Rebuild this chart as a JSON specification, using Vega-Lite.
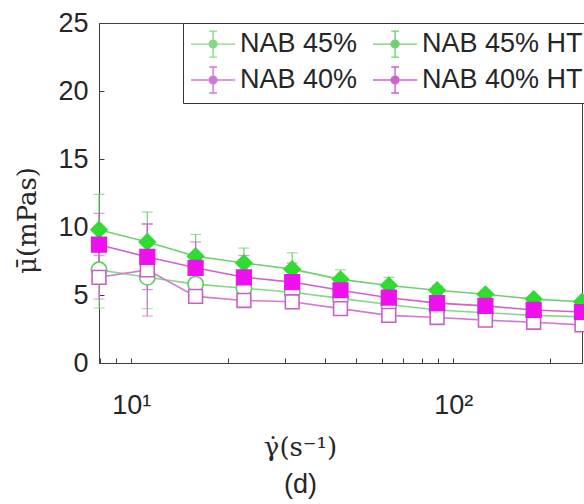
{
  "$schema": "https://vega.github.io/schema/vega-lite/v6.json",
  "width": 483,
  "height": 340,
  "autosize": {"type": "none"},
  "padding": {"left": 99, "top": 23, "right": 2, "bottom": 141},
  "background": "white",
  "config": {
    "view": {"stroke": "#404040", "strokeWidth": 1},
    "axis": {
      "grid": false,
      "domainColor": "#404040",
      "tickColor": "#404040",
      "labelColor": "#262626",
      "labelFont": "Liberation Sans",
      "labelFontSize": 27,
      "titleColor": "#262626",
      "titleFontWeight": "normal"
    }
  },
  "title": {
    "text": "(d)",
    "orient": "bottom",
    "font": "Liberation Sans",
    "fontSize": 27,
    "fontWeight": "normal",
    "color": "#262626",
    "dx": -40,
    "offset": 12
  },
  "data": {
    "values": [
      {"s": "NAB 45%", "x": 7.943, "y": 6.85, "e": 2.8},
      {"s": "NAB 45%", "x": 11.22, "y": 6.3, "e": 2.3},
      {"s": "NAB 45%", "x": 15.85, "y": 5.8, "e": 0.9},
      {"s": "NAB 45%", "x": 22.39, "y": 5.5, "e": 0.8},
      {"s": "NAB 45%", "x": 31.62, "y": 5.2, "e": 0.8},
      {"s": "NAB 45%", "x": 44.67, "y": 4.75, "e": 0.6},
      {"s": "NAB 45%", "x": 63.1, "y": 4.3, "e": 0.45},
      {"s": "NAB 45%", "x": 89.13, "y": 3.9, "e": 0.35},
      {"s": "NAB 45%", "x": 125.9, "y": 3.7, "e": 0.3},
      {"s": "NAB 45%", "x": 177.8, "y": 3.5, "e": 0.3},
      {"s": "NAB 45%", "x": 251.2, "y": 3.4, "e": 0.3},
      {"s": "NAB 45% HT", "x": 7.943, "y": 9.8, "e": 2.6},
      {"s": "NAB 45% HT", "x": 11.22, "y": 8.9, "e": 2.2},
      {"s": "NAB 45% HT", "x": 15.85, "y": 7.85, "e": 1.6},
      {"s": "NAB 45% HT", "x": 22.39, "y": 7.35, "e": 1.1},
      {"s": "NAB 45% HT", "x": 31.62, "y": 6.9, "e": 1.2},
      {"s": "NAB 45% HT", "x": 44.67, "y": 6.15, "e": 0.7},
      {"s": "NAB 45% HT", "x": 63.1, "y": 5.7, "e": 0.6},
      {"s": "NAB 45% HT", "x": 89.13, "y": 5.35, "e": 0.35},
      {"s": "NAB 45% HT", "x": 125.9, "y": 5.05, "e": 0.3},
      {"s": "NAB 45% HT", "x": 177.8, "y": 4.7, "e": 0.25},
      {"s": "NAB 45% HT", "x": 251.2, "y": 4.5, "e": 0.25},
      {"s": "NAB 40%", "x": 7.943, "y": 6.3, "e": 1.6},
      {"s": "NAB 40%", "x": 11.22, "y": 6.85, "e": 3.4},
      {"s": "NAB 40%", "x": 15.85, "y": 4.9, "e": 0.5},
      {"s": "NAB 40%", "x": 22.39, "y": 4.6, "e": 0.5},
      {"s": "NAB 40%", "x": 31.62, "y": 4.5, "e": 0.5},
      {"s": "NAB 40%", "x": 44.67, "y": 4.0, "e": 0.4},
      {"s": "NAB 40%", "x": 63.1, "y": 3.5, "e": 0.3},
      {"s": "NAB 40%", "x": 89.13, "y": 3.35, "e": 0.3},
      {"s": "NAB 40%", "x": 125.9, "y": 3.15, "e": 0.3},
      {"s": "NAB 40%", "x": 177.8, "y": 3.0, "e": 0.3},
      {"s": "NAB 40%", "x": 251.2, "y": 2.8, "e": 0.3},
      {"s": "NAB 40% HT", "x": 7.943, "y": 8.7, "e": 2.3},
      {"s": "NAB 40% HT", "x": 11.22, "y": 7.8, "e": 2.4},
      {"s": "NAB 40% HT", "x": 15.85, "y": 7.0, "e": 1.9},
      {"s": "NAB 40% HT", "x": 22.39, "y": 6.3, "e": 1.6},
      {"s": "NAB 40% HT", "x": 31.62, "y": 5.95, "e": 1.4},
      {"s": "NAB 40% HT", "x": 44.67, "y": 5.35, "e": 0.8},
      {"s": "NAB 40% HT", "x": 63.1, "y": 4.8, "e": 0.6},
      {"s": "NAB 40% HT", "x": 89.13, "y": 4.4, "e": 0.45},
      {"s": "NAB 40% HT", "x": 125.9, "y": 4.2, "e": 0.35},
      {"s": "NAB 40% HT", "x": 177.8, "y": 3.9, "e": 0.3},
      {"s": "NAB 40% HT", "x": 251.2, "y": 3.75, "e": 0.3}
    ]
  },
  "encoding": {
    "x": {
      "field": "x",
      "type": "quantitative",
      "scale": {"type": "log", "domain": [7.943, 251.2], "nice": false},
      "axis": {
        "values": [8, 9, 10, 20, 30, 40, 50, 60, 70, 80, 90, 100, 200],
        "labelExpr": "datum.value == 10 ? '10¹' : datum.value == 100 ? '10²' : ''",
        "tickSize": -5,
        "labelPadding": 34,
        "labelFlush": false,
        "title": "γ̇(s⁻¹)",
        "titleFont": "DejaVu Serif",
        "titleFontSize": 26,
        "titleX": 201,
        "titleY": 92,
        "titleBaseline": "alphabetic",
        "titleAnchor": null
      }
    },
    "y": {
      "field": "y",
      "type": "quantitative",
      "scale": {"domain": [0, 25], "nice": false},
      "axis": {
        "values": [0, 5, 10, 15, 20, 25],
        "tickSize": -5,
        "labelPadding": 16,
        "title": "μ̄(mPas)",
        "titleFont": "DejaVu Serif",
        "titleFontSize": 26,
        "titleAngle": -90,
        "titleAlign": "center",
        "titleBaseline": "middle",
        "titleX": -72,
        "titleY": 197
      }
    }
  },
  "layer": [
    {
      "mark": {"type": "errorbar", "ticks": {"size": 11}, "thickness": 1.2},
      "encoding": {
        "yError": {"field": "e"},
        "color": {
          "field": "s",
          "type": "nominal",
          "scale": {
            "domain": ["NAB 45%", "NAB 45% HT", "NAB 40%", "NAB 40% HT"],
            "range": ["#86d886", "#70d070", "#d27ad2", "#d060d0"]
          }
        }
      }
    },
    {
      "mark": {"type": "line", "strokeWidth": 1.6},
      "encoding": {
        "color": {
          "field": "s",
          "type": "nominal",
          "legend": {
            "title": null,
            "orient": "none",
            "legendX": 84,
            "legendY": 0,
            "columns": 2,
            "direction": "horizontal",
            "labelFont": "Liberation Sans",
            "labelFontSize": 27,
            "labelColor": "#262626",
            "labelOffset": 22,
            "labelLimit": 300,
            "symbolSize": 676,
            "symbolStrokeWidth": 1.4,
            "columnPadding": 12,
            "rowPadding": 4,
            "padding": 7,
            "strokeColor": "#333333",
            "fillColor": "white",
            "cornerRadius": 0,
            "encode": {
              "symbols": {
                "update": {
                  "shape": {"value": "M-1,0H0.4M1,0H2.4M0.7,-1V-0.3M0.7,0.3V1M0.4,-1H1M0.4,1H1M1,0A0.3,0.3 0 1,1 0.4,0A0.3,0.3 0 1,1 1,0Z"},
                  "size": {"value": 676},
                  "strokeWidth": {"value": 1.4},
                  "fill": {"signal": "datum.value === 'NAB 45% HT' ? '#2fdc2f' : datum.value === 'NAB 40% HT' ? '#ee11ee' : 'white'"},
                  "opacity": {"value": 1}
                }
              }
            }
          }
        }
      }
    },
    {
      "mark": {"type": "point", "strokeWidth": 1.6, "opacity": 1},
      "encoding": {
        "shape": {
          "field": "s",
          "type": "nominal",
          "scale": {
            "domain": ["NAB 45% HT", "NAB 45%", "NAB 40% HT", "NAB 40%"],
            "range": ["diamond", "circle", "square", "square"]
          },
          "legend": null
        },
        "size": {
          "field": "s",
          "type": "nominal",
          "scale": {
            "domain": ["NAB 45% HT", "NAB 45%", "NAB 40% HT", "NAB 40%"],
            "range": [260, 190, 170, 160]
          },
          "legend": null
        },
        "fill": {
          "field": "s",
          "type": "nominal",
          "scale": {
            "domain": ["NAB 45% HT", "NAB 45%", "NAB 40% HT", "NAB 40%"],
            "range": ["#2fdc2f", "white", "#ee11ee", "white"]
          },
          "legend": null
        },
        "stroke": {
          "field": "s",
          "type": "nominal",
          "scale": {
            "domain": ["NAB 45% HT", "NAB 45%", "NAB 40% HT", "NAB 40%"],
            "range": ["#2fdc2f", "#5ccf5c", "#ee11ee", "#c860c8"]
          },
          "legend": null
        }
      }
    }
  ]
}
